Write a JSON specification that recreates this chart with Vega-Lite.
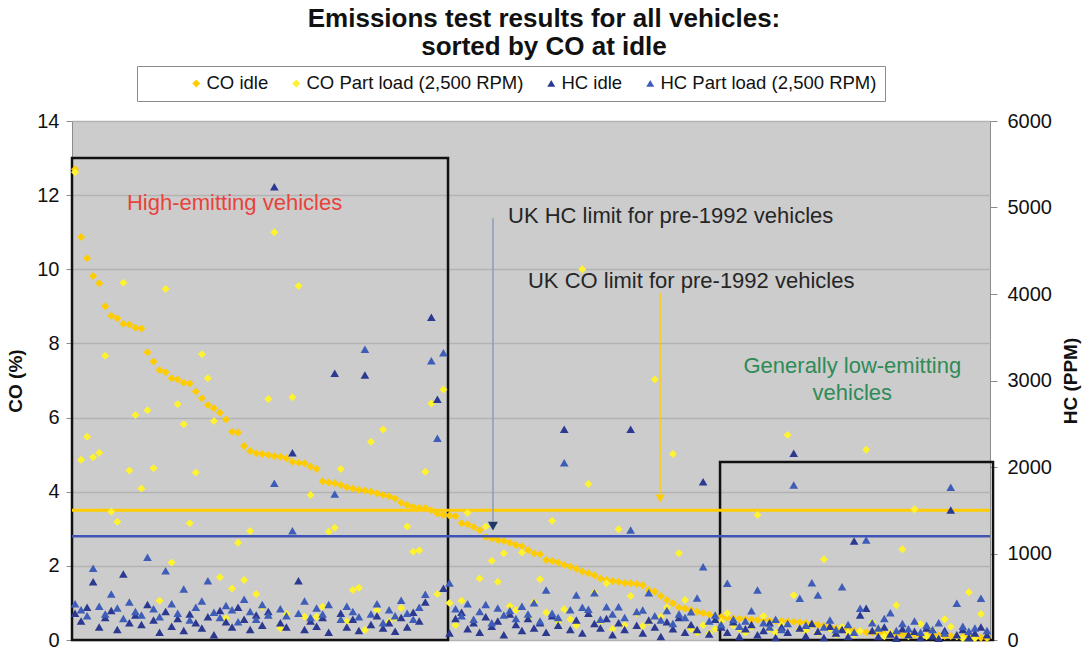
{
  "$schema": "https://vega.github.io/schema/vega-lite/v6.json",
  "width": 918,
  "height": 519,
  "autosize": {"type": "none"},
  "padding": {"left": 72, "top": 121, "right": 99, "bottom": 9},
  "background": "white",
  "title": {"text": ["Emissions test results for all vehicles:", "sorted by CO at idle"], "font": "Liberation Sans", "fontSize": 26, "fontWeight": "bold", "color": "#111", "anchor": "middle", "frame": "group", "dx": 13, "offset": -20, "lineHeight": 28, "baseline": "bottom"},
  "datasets": {
    "v": [
      {"i":1,"coi":12.7,"cop":12.62,"hci":310,"hcp":420},
      {"i":2,"coi":10.87,"cop":4.86,"hci":220,"hcp":350},
      {"i":3,"coi":10.3,"cop":5.48,"hci":380,"hcp":280},
      {"i":4,"coi":9.82,"cop":4.93,"hci":674,"hcp":829},
      {"i":5,"coi":9.62,"cop":5.05,"hci":150,"hcp":390},
      {"i":6,"coi":9.0,"cop":7.67,"hci":260,"hcp":300},
      {"i":7,"coi":8.75,"cop":3.46,"hci":340,"hcp":532},
      {"i":8,"coi":8.68,"cop":3.19,"hci":120,"hcp":370},
      {"i":9,"coi":8.53,"cop":9.64,"hci":763,"hcp":250},
      {"i":10,"coi":8.51,"cop":4.57,"hci":200,"hcp":440},
      {"i":11,"coi":8.42,"cop":6.07,"hci":290,"hcp":330},
      {"i":12,"coi":8.4,"cop":4.09,"hci":180,"hcp":290},
      {"i":13,"coi":7.76,"cop":6.2,"hci":410,"hcp":956},
      {"i":14,"coi":7.51,"cop":4.63,"hci":230,"hcp":360},
      {"i":15,"coi":7.28,"cop":1.06,"hci":90,"hcp":270},
      {"i":16,"coi":7.22,"cop":9.47,"hci":330,"hcp":801},
      {"i":17,"coi":7.06,"cop":2.09,"hci":160,"hcp":420},
      {"i":18,"coi":7.03,"cop":6.36,"hci":250,"hcp":310},
      {"i":19,"coi":6.94,"cop":5.82,"hci":110,"hcp":590},
      {"i":20,"coi":6.92,"cop":3.15,"hci":300,"hcp":230},
      {"i":21,"coi":6.7,"cop":4.52,"hci":200,"hcp":380},
      {"i":22,"coi":6.52,"cop":7.71,"hci":140,"hcp":450},
      {"i":23,"coi":6.34,"cop":7.06,"hci":270,"hcp":686},
      {"i":24,"coi":6.25,"cop":5.91,"hci":60,"hcp":320},
      {"i":25,"coi":6.13,"cop":1.69,"hci":340,"hcp":260},
      {"i":26,"coi":5.95,"cop":0.59,"hci":210,"hcp":400},
      {"i":27,"coi":5.62,"cop":1.39,"hci":150,"hcp":350},
      {"i":28,"coi":5.6,"cop":2.62,"hci":380,"hcp":210},
      {"i":29,"coi":5.23,"cop":1.62,"hci":240,"hcp":470},
      {"i":30,"coi":5.1,"cop":2.94,"hci":120,"hcp":330},
      {"i":31,"coi":5.04,"cop":1.24,"hci":290,"hcp":240},
      {"i":32,"coi":5.02,"cop":0.9,"hci":170,"hcp":410},
      {"i":33,"coi":4.99,"cop":6.5,"hci":330,"hcp":290},
      {"i":34,"coi":4.96,"cop":11.0,"hci":5240,"hcp":1811},
      {"i":35,"coi":4.94,"cop":0.32,"hci":200,"hcp":360},
      {"i":36,"coi":4.9,"cop":0.7,"hci":150,"hcp":280},
      {"i":37,"coi":4.81,"cop":6.55,"hci":2166,"hcp":1264},
      {"i":38,"coi":4.78,"cop":9.55,"hci":686,"hcp":310},
      {"i":39,"coi":4.77,"cop":0.63,"hci":120,"hcp":450},
      {"i":40,"coi":4.68,"cop":3.91,"hci":220,"hcp":260},
      {"i":41,"coi":4.61,"cop":0.63,"hci":160,"hcp":370},
      {"i":42,"coi":4.28,"cop":0.9,"hci":260,"hcp":300},
      {"i":43,"coi":4.25,"cop":2.92,"hci":90,"hcp":410},
      {"i":44,"coi":4.23,"cop":3.03,"hci":3083,"hcp":1688},
      {"i":45,"coi":4.18,"cop":4.61,"hci":310,"hcp":240},
      {"i":46,"coi":4.12,"cop":0.5,"hci":150,"hcp":390},
      {"i":47,"coi":4.09,"cop":1.35,"hci":240,"hcp":330},
      {"i":48,"coi":4.05,"cop":1.41,"hci":110,"hcp":270},
      {"i":49,"coi":4.03,"cop":0.27,"hci":3064,"hcp":3361},
      {"i":50,"coi":4.0,"cop":5.35,"hci":180,"hcp":300},
      {"i":51,"coi":3.96,"cop":0.8,"hci":280,"hcp":420},
      {"i":52,"coi":3.91,"cop":5.68,"hci":140,"hcp":200},
      {"i":53,"coi":3.88,"cop":0.49,"hci":200,"hcp":350},
      {"i":54,"coi":3.82,"cop":0.6,"hci":100,"hcp":280},
      {"i":55,"coi":3.7,"cop":0.86,"hci":260,"hcp":460},
      {"i":56,"coi":3.64,"cop":3.06,"hci":150,"hcp":310},
      {"i":57,"coi":3.59,"cop":2.38,"hci":320,"hcp":240},
      {"i":58,"coi":3.57,"cop":2.42,"hci":220,"hcp":380},
      {"i":59,"coi":3.56,"cop":4.54,"hci":440,"hcp":530},
      {"i":60,"coi":3.5,"cop":6.38,"hci":3730,"hcp":3229},
      {"i":61,"coi":3.41,"cop":1.24,"hci":2783,"hcp":2332},
      {"i":62,"coi":3.37,"cop":6.76,"hci":597,"hcp":3321},
      {"i":63,"coi":3.36,"cop":1.0,"hci":80,"hcp":660},
      {"i":64,"coi":3.34,"cop":0.4,"hci":250,"hcp":360},
      {"i":65,"coi":3.15,"cop":1.06,"hci":320,"hcp":280},
      {"i":66,"coi":3.12,"cop":3.43,"hci":130,"hcp":420},
      {"i":67,"coi":3.05,"cop":0.5,"hci":200,"hcp":240},
      {"i":68,"coi":2.96,"cop":1.66,"hci":90,"hcp":330},
      {"i":69,"coi":2.78,"cop":3.06,"hci":270,"hcp":410},
      {"i":70,"coi":2.74,"cop":2.14,"hci":160,"hcp":200},
      {"i":71,"coi":2.7,"cop":1.57,"hci":220,"hcp":370},
      {"i":72,"coi":2.67,"cop":2.34,"hci":60,"hcp":290},
      {"i":73,"coi":2.62,"cop":0.92,"hci":300,"hcp":340},
      {"i":74,"coi":2.56,"cop":0.81,"hci":180,"hcp":250},
      {"i":75,"coi":2.53,"cop":2.36,"hci":110,"hcp":390},
      {"i":76,"coi":2.43,"cop":0.6,"hci":250,"hcp":300},
      {"i":77,"coi":2.34,"cop":1.02,"hci":140,"hcp":430},
      {"i":78,"coi":2.31,"cop":1.64,"hci":200,"hcp":220},
      {"i":79,"coi":2.16,"cop":0.74,"hci":90,"hcp":578},
      {"i":80,"coi":2.13,"cop":3.22,"hci":280,"hcp":310},
      {"i":81,"coi":2.09,"cop":0.5,"hci":170,"hcp":260},
      {"i":82,"coi":2.02,"cop":0.83,"hci":2436,"hcp":2050},
      {"i":83,"coi":1.98,"cop":0.56,"hci":120,"hcp":350},
      {"i":84,"coi":1.92,"cop":0.4,"hci":230,"hcp":520},
      {"i":85,"coi":1.85,"cop":10.0,"hci":80,"hcp":378},
      {"i":86,"coi":1.8,"cop":4.21,"hci":310,"hcp":355},
      {"i":87,"coi":1.75,"cop":1.28,"hci":190,"hcp":545},
      {"i":88,"coi":1.66,"cop":0.5,"hci":140,"hcp":240},
      {"i":89,"coi":1.62,"cop":1.53,"hci":250,"hcp":385},
      {"i":90,"coi":1.59,"cop":0.3,"hci":60,"hcp":300},
      {"i":91,"coi":1.57,"cop":2.99,"hci":200,"hcp":385},
      {"i":92,"coi":1.54,"cop":0.4,"hci":120,"hcp":260},
      {"i":93,"coi":1.53,"cop":1.19,"hci":2436,"hcp":1272},
      {"i":94,"coi":1.51,"cop":0.72,"hci":170,"hcp":330},
      {"i":95,"coi":1.48,"cop":0.38,"hci":80,"hcp":347},
      {"i":96,"coi":1.35,"cop":0.5,"hci":230,"hcp":547},
      {"i":97,"coi":1.3,"cop":7.03,"hci":150,"hcp":280},
      {"i":98,"coi":1.19,"cop":0.63,"hci":40,"hcp":230},
      {"i":99,"coi":1.08,"cop":0.88,"hci":210,"hcp":340},
      {"i":100,"coi":0.99,"cop":5.02,"hci":130,"hcp":190},
      {"i":101,"coi":0.88,"cop":2.34,"hci":260,"hcp":300},
      {"i":102,"coi":0.85,"cop":1.08,"hci":90,"hcp":260},
      {"i":103,"coi":0.81,"cop":0.3,"hci":180,"hcp":327},
      {"i":104,"coi":0.76,"cop":0.2,"hci":120,"hcp":485},
      {"i":105,"coi":0.73,"cop":0.4,"hci":1830,"hcp":847},
      {"i":106,"coi":0.69,"cop":0.18,"hci":70,"hcp":220},
      {"i":107,"coi":0.65,"cop":0.3,"hci":240,"hcp":290},
      {"i":108,"coi":0.62,"cop":0.5,"hci":150,"hcp":180},
      {"i":109,"coi":0.6,"cop":0.72,"hci":90,"hcp":655},
      {"i":110,"coi":0.58,"cop":0.4,"hci":210,"hcp":240},
      {"i":111,"coi":0.57,"cop":0.3,"hci":40,"hcp":160},
      {"i":112,"coi":0.56,"cop":0.2,"hci":130,"hcp":220},
      {"i":113,"coi":0.55,"cop":0.35,"hci":180,"hcp":339},
      {"i":114,"coi":0.54,"cop":3.37,"hci":60,"hcp":578},
      {"i":115,"coi":0.53,"cop":0.65,"hci":110,"hcp":200},
      {"i":116,"coi":0.52,"cop":0.3,"hci":200,"hcp":150},
      {"i":117,"coi":0.51,"cop":0.2,"hci":30,"hcp":240},
      {"i":118,"coi":0.51,"cop":0.4,"hci":150,"hcp":120},
      {"i":119,"coi":0.5,"cop":5.53,"hci":90,"hcp":190},
      {"i":120,"coi":0.49,"cop":1.21,"hci":2158,"hcp":1792},
      {"i":121,"coi":0.48,"cop":0.3,"hci":140,"hcp":482},
      {"i":122,"coi":0.46,"cop":0.25,"hci":50,"hcp":170},
      {"i":123,"coi":0.44,"cop":0.4,"hci":190,"hcp":662},
      {"i":124,"coi":0.41,"cop":0.2,"hci":100,"hcp":520},
      {"i":125,"coi":0.38,"cop":2.18,"hci":30,"hcp":150},
      {"i":126,"coi":0.35,"cop":0.3,"hci":160,"hcp":230},
      {"i":127,"coi":0.32,"cop":0.15,"hci":80,"hcp":120},
      {"i":128,"coi":0.29,"cop":0.35,"hci":120,"hcp":616},
      {"i":129,"coi":0.27,"cop":0.2,"hci":40,"hcp":180},
      {"i":130,"coi":0.25,"cop":0.15,"hci":1145,"hcp":90},
      {"i":131,"coi":0.23,"cop":0.24,"hci":290,"hcp":366},
      {"i":132,"coi":0.21,"cop":5.13,"hci":366,"hcp":1156},
      {"i":133,"coi":0.2,"cop":0.47,"hci":110,"hcp":200},
      {"i":134,"coi":0.18,"cop":0.3,"hci":40,"hcp":140},
      {"i":135,"coi":0.17,"cop":0.1,"hci":150,"hcp":250},
      {"i":136,"coi":0.16,"cop":0.2,"hci":70,"hcp":316},
      {"i":137,"coi":0.15,"cop":0.94,"hci":20,"hcp":110},
      {"i":138,"coi":0.15,"cop":2.45,"hci":130,"hcp":190},
      {"i":139,"coi":0.14,"cop":0.1,"hci":60,"hcp":130},
      {"i":140,"coi":0.14,"cop":3.53,"hci":100,"hcp":220},
      {"i":141,"coi":0.13,"cop":0.43,"hci":30,"hcp":90},
      {"i":142,"coi":0.13,"cop":0.1,"hci":140,"hcp":170},
      {"i":143,"coi":0.12,"cop":0.27,"hci":50,"hcp":120},
      {"i":144,"coi":0.12,"cop":0.05,"hci":20,"hcp":200},
      {"i":145,"coi":0.11,"cop":0.56,"hci":110,"hcp":80},
      {"i":146,"coi":0.11,"cop":0.36,"hci":1503,"hcp":1765},
      {"i":147,"coi":0.1,"cop":0.1,"hci":60,"hcp":424},
      {"i":148,"coi":0.09,"cop":0.05,"hci":120,"hcp":160},
      {"i":149,"coi":0.08,"cop":1.29,"hci":30,"hcp":100},
      {"i":150,"coi":0.07,"cop":0.05,"hci":80,"hcp":140},
      {"i":151,"coi":0.06,"cop":0.7,"hci":150,"hcp":482},
      {"i":152,"coi":0.05,"cop":0.1,"hci":60,"hcp":110}
    ]
  },
  "data": {"name": "v"},
  "layer": [
    {
      "layer": [
        {
          "data": {"values": [{}]},
          "mark": {"type": "rect", "fill": "transparent", "stroke": "#111111", "strokeWidth": 2.5},
          "encoding": {
            "x": {"datum": 0.5, "type": "quantitative", "scale": {"domain": [0.5, 152.5], "nice": false, "zero": false}, "axis": null},
            "x2": {"datum": 62.76},
            "y": {"datum": 0, "type": "quantitative", "axis": {"title": "CO (%)"}},
            "y2": {"datum": 13.0}
          }
        },
        {
          "data": {"values": [{}]},
          "mark": {"type": "rect", "fill": "transparent", "stroke": "#111111", "strokeWidth": 2.5},
          "encoding": {
            "x": {"datum": 107.8, "type": "quantitative", "axis": null},
            "x2": {"datum": 153.0},
            "y": {"datum": 0, "type": "quantitative", "axis": {"title": "CO (%)"}},
            "y2": {"datum": 4.8}
          }
        },
        {
          "data": {"values": [{}]},
          "mark": {"type": "rule", "color": "#FFCC00", "strokeWidth": 3},
          "encoding": {
            "y": {"datum": 3.5, "type": "quantitative", "axis": {"title": "CO (%)"}}
          }
        },
        {
          "data": {"values": [{}]},
          "mark": {"type": "rule", "color": "#8E9DBA", "strokeWidth": 1.5},
          "encoding": {
            "x": {"datum": 70.2, "type": "quantitative", "axis": null},
            "y": {"datum": 11.38, "type": "quantitative", "axis": {"title": "CO (%)"}},
            "y2": {"datum": 3.2}
          }
        },
        {
          "data": {"values": [{}]},
          "mark": {"type": "point", "shape": "triangle-down", "filled": true, "color": "#1F3864", "opacity": 1, "size": 100},
          "encoding": {
            "x": {"datum": 70.2, "type": "quantitative", "axis": null},
            "y": {"datum": 3.07, "type": "quantitative", "axis": {"title": "CO (%)"}}
          }
        },
        {
          "data": {"values": [{}]},
          "mark": {"type": "rule", "color": "#FFCC00", "strokeWidth": 1},
          "encoding": {
            "x": {"datum": 97.9, "type": "quantitative", "axis": null},
            "y": {"datum": 9.36, "type": "quantitative", "axis": {"title": "CO (%)"}},
            "y2": {"datum": 3.95}
          }
        },
        {
          "data": {"values": [{}]},
          "mark": {"type": "point", "shape": "triangle-down", "filled": true, "color": "#FFCC00", "opacity": 1, "size": 85},
          "encoding": {
            "x": {"datum": 97.9, "type": "quantitative", "axis": null},
            "y": {"datum": 3.82, "type": "quantitative", "axis": {"title": "CO (%)"}}
          }
        },
        {
          "data": {"values": [{}]},
          "mark": {"type": "text", "text": "High-emitting vehicles", "align": "left", "baseline": "middle", "font": "Liberation Sans", "fontSize": 22, "color": "#E8433B"},
          "encoding": {
            "x": {"datum": 9.6, "type": "quantitative", "axis": null},
            "y": {"datum": 11.79, "type": "quantitative", "axis": {"title": "CO (%)"}}
          }
        },
        {
          "data": {"values": [{}]},
          "mark": {"type": "text", "text": "UK HC limit for pre-1992 vehicles", "align": "left", "baseline": "middle", "font": "Liberation Sans", "fontSize": 22, "color": "#262626"},
          "encoding": {
            "x": {"datum": 72.7, "type": "quantitative", "axis": null},
            "y": {"datum": 11.44, "type": "quantitative", "axis": {"title": "CO (%)"}}
          }
        },
        {
          "data": {"values": [{}]},
          "mark": {"type": "text", "text": "UK CO limit for pre-1992 vehicles", "align": "left", "baseline": "middle", "font": "Liberation Sans", "fontSize": 22, "color": "#262626"},
          "encoding": {
            "x": {"datum": 76.0, "type": "quantitative", "axis": null},
            "y": {"datum": 9.68, "type": "quantitative", "axis": {"title": "CO (%)"}}
          }
        },
        {
          "data": {"values": [{}]},
          "mark": {"type": "text", "text": ["Generally low-emitting", "vehicles"], "lineHeight": 27, "align": "center", "baseline": "middle", "font": "Liberation Sans", "fontSize": 22, "color": "#2E8B57"},
          "encoding": {
            "x": {"datum": 129.7, "type": "quantitative", "axis": null},
            "y": {"datum": 7.38, "type": "quantitative", "axis": {"title": "CO (%)"}}
          }
        },
        {
          "mark": {"type": "point", "filled": true, "opacity": 1, "size": 64},
          "encoding": {
            "x": {"field": "i", "type": "quantitative", "axis": null},
            "y": {"field": "coi", "type": "quantitative", "scale": {"domain": [0, 14], "nice": false, "zero": true},
                  "axis": {"title": "CO (%)", "values": [0, 2, 4, 6, 8, 10, 12, 14], "grid": true, "gridColor": "#B2B2B2", "gridWidth": 1.5, "domain": false, "ticks": true, "tickSize": 6, "tickColor": "#8C8C8C", "labelPadding": 7, "labelFontSize": 20, "labelFont": "Liberation Sans", "labelColor": "#111111", "titleFont": "Liberation Sans", "titleFontSize": 19, "titleFontWeight": "bold", "titleColor": "#111111", "titlePadding": 11}},
            "color": {"datum": "CO idle", "type": "nominal",
                      "scale": {"domain": ["CO idle", "CO Part load (2,500 RPM)", "HC idle", "HC Part load (2,500 RPM)"], "range": ["#FFCC00", "#FFF22E", "#2B3990", "#3E5DB8"]},
                      "legend": {"title": " ", "titleOrient": "left", "titlePadding": 42, "titleFontSize": 18, "orient": "none", "legendX": 65, "legendY": -55, "direction": "horizontal", "columns": 4, "fillColor": "white", "strokeColor": "#8C8C8C", "padding": 8, "symbolSize": 64, "labelFontSize": 18.5, "labelFont": "Liberation Sans", "labelColor": "#111111", "labelOffset": 1, "columnPadding": 18, "symbolStrokeWidth": 0, "labelLimit": 400}},
            "shape": {"datum": "CO idle", "type": "nominal",
                      "scale": {"domain": ["CO idle", "CO Part load (2,500 RPM)", "HC idle", "HC Part load (2,500 RPM)"], "range": ["diamond", "diamond", "triangle-up", "triangle-up"]},
                      "legend": {"title": " ", "titleOrient": "left", "titlePadding": 42, "titleFontSize": 18, "orient": "none", "legendX": 65, "legendY": -55, "direction": "horizontal", "columns": 4, "fillColor": "white", "strokeColor": "#8C8C8C", "padding": 8, "symbolSize": 64, "labelFontSize": 18.5, "labelFont": "Liberation Sans", "labelColor": "#111111", "labelOffset": 1, "columnPadding": 18, "symbolStrokeWidth": 0, "labelLimit": 400}}
          }
        },
        {
          "mark": {"type": "point", "filled": true, "opacity": 1, "size": 64},
          "encoding": {
            "x": {"field": "i", "type": "quantitative", "axis": null},
            "y": {"field": "cop", "type": "quantitative", "axis": {"title": "CO (%)"}},
            "color": {"datum": "CO Part load (2,500 RPM)", "type": "nominal"},
            "shape": {"datum": "CO Part load (2,500 RPM)", "type": "nominal"}
          }
        }
      ]
    },
    {
      "layer": [
        {
          "data": {"values": [{}]},
          "mark": {"type": "rule", "color": "#4055B3", "strokeWidth": 2.5},
          "encoding": {
            "y": {"datum": 1200, "type": "quantitative", "axis": {"orient": "right", "title": "HC (PPM)"}}
          }
        },
        {
          "mark": {"type": "point", "filled": true, "opacity": 1, "size": 75},
          "encoding": {
            "x": {"field": "i", "type": "quantitative", "axis": null},
            "y": {"field": "hci", "type": "quantitative", "scale": {"domain": [0, 6000], "nice": false, "zero": true},
                  "axis": {"orient": "right", "title": "HC (PPM)", "values": [0, 1000, 2000, 3000, 4000, 5000, 6000], "format": "d", "grid": false, "domain": false, "ticks": true, "tickSize": 7, "tickColor": "#8C8C8C", "labelPadding": 10, "labelFontSize": 20, "labelFont": "Liberation Sans", "labelColor": "#111111", "titleFont": "Liberation Sans", "titleFontSize": 19, "titleFontWeight": "bold", "titleColor": "#111111", "titleAngle": 270, "titleBaseline": "top", "titlePadding": 10}},
            "color": {"datum": "HC idle", "type": "nominal"},
            "shape": {"datum": "HC idle", "type": "nominal"}
          }
        },
        {
          "mark": {"type": "point", "filled": true, "opacity": 1, "size": 75},
          "encoding": {
            "x": {"field": "i", "type": "quantitative", "axis": null},
            "y": {"field": "hcp", "type": "quantitative", "axis": {"orient": "right", "title": "HC (PPM)"}},
            "color": {"datum": "HC Part load (2,500 RPM)", "type": "nominal"},
            "shape": {"datum": "HC Part load (2,500 RPM)", "type": "nominal"}
          }
        }
      ]
    }
  ],
  "resolve": {"scale": {"y": "independent"}},
  "config": {
    "font": "Liberation Sans",
    "view": {"fill": "#CCCCCC", "stroke": "#8C8C8C", "strokeWidth": 1}
  }
}
